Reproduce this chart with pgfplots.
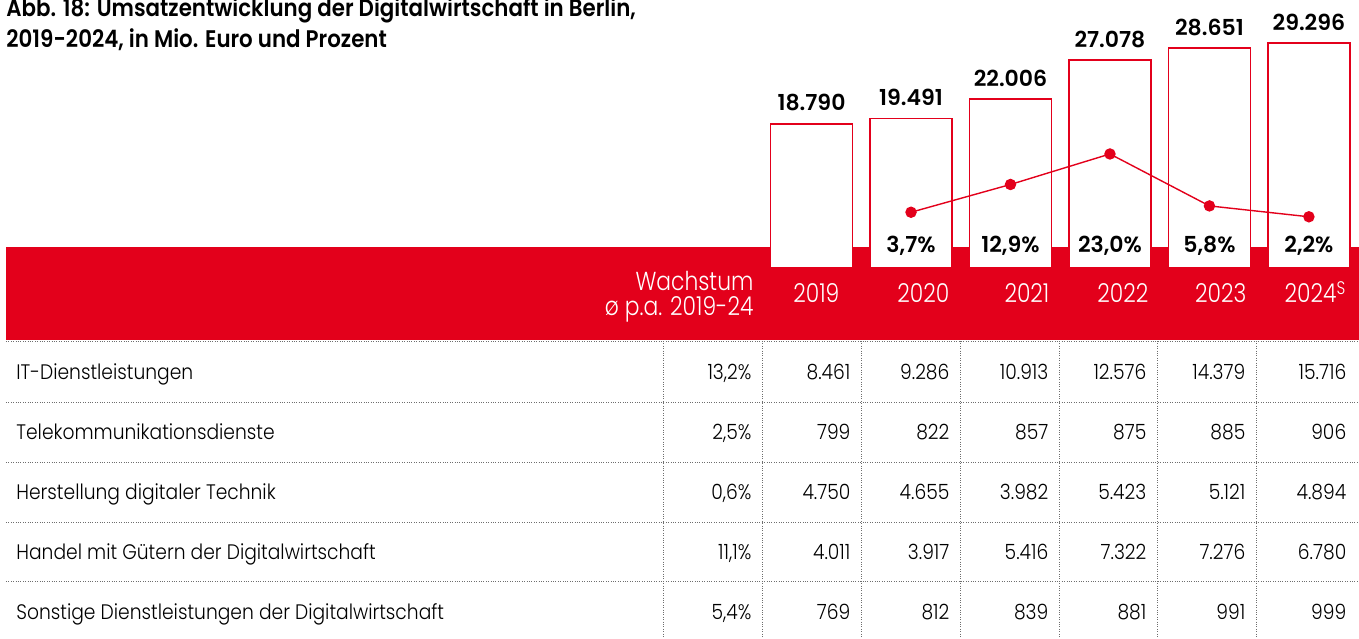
\documentclass[border=0pt]{standalone}
\usepackage{pgfplots}
\pgfplotsset{compat=1.18}
\usepackage{fontspec}
\setmainfont{Poppins}
\newfontfamily\lightfont{Poppins Light}[FakeStretch=0.89]
\newfontfamily\headfont{Poppins Light}[FakeStretch=0.84]
\newfontfamily\semifont{Poppins SemiBold}
\newfontfamily\titlefont{Poppins SemiBold}[FakeStretch=0.89]
\definecolor{bred}{RGB}{227,0,27}
\definecolor{dotgray}{RGB}{110,110,110}
\begin{document}
\begin{tikzpicture}
\begin{scope}[x=0.5pt,y=-0.5pt]
\path[use as bounding box] (0,0) rectangle (1359,638);
\fill[bred] (6,247) rectangle (1359,340);
\node[anchor=base west, inner sep=0pt, font=\titlefont\fontsize{12pt}{14pt}\selectfont] at (6,17) {Abb. 18: Umsatzentwicklung der Digitalwirtschaft in Berlin,};
\node[anchor=base west, inner sep=0pt, font=\titlefont\fontsize{12pt}{14pt}\selectfont] at (6,48) {2019-2024, in Mio. Euro und Prozent};
\end{scope}

% bars
\begin{axis}[
  at={(381pt,-134pt)}, anchor=south west,
  width=298.5pt, height=134pt, scale only axis,
  xmin=-0.5, xmax=5.5, ymin=0, ymax=34941,
  hide axis, clip=false,
]
\addplot[ybar, draw=bred, fill=white, line width=0.9pt, bar width=41pt,
  point meta=explicit symbolic, nodes near coords,
  every node near coord/.append style={font=\semifont\fontsize{11pt}{13pt}\selectfont, text=black, anchor=base, yshift=6.5pt, inner sep=0pt}]
  coordinates {(0,18790)[18.790] (1,19491)[19.491] (2,22006)[22.006] (3,27078)[27.078] (4,28651)[28.651] (5,29296)[29.296]};
\end{axis}

% growth line
\begin{axis}[
  at={(381pt,-134pt)}, anchor=south west,
  width=298.5pt, height=134pt, scale only axis,
  xmin=-0.5, xmax=5.5, ymin=-14.74, ymax=74.0,
  hide axis, clip=false,
]
\addplot[color=bred, line width=0.7pt, mark=*, mark size=2.5pt, mark options={fill=bred, draw=bred}]
  coordinates {(1,3.7) (2,12.9) (3,23.0) (4,5.8) (5,2.2)};
\foreach \i/\t in {1/{3,7\%},2/{12,9\%},3/{23,0\%},4/{5,8\%},5/{2,2\%}}{
  \edef\temp{\noexpand\node[anchor=base, inner sep=0pt, font=\noexpand\semifont\noexpand\fontsize{11pt}{13pt}\noexpand\selectfont] at (axis cs:\i,-9.77) {\t};}
  \temp
}
\end{axis}

\begin{scope}[x=0.5pt,y=-0.5pt]
% header
\begin{scope}[every node/.style={inner sep=0pt, text=white, font=\headfont\fontsize{13pt}{15pt}\selectfont}]
\node[anchor=base east] at (754,291) {Wachstum};
\node[anchor=base east] at (754,316) {ø p.a. 2019-24};
\node[anchor=base east] at (840,303) {2019};
\node[anchor=base east] at (950,303) {2020};
\node[anchor=base east] at (1050,303) {2021};
\node[anchor=base east] at (1149,303) {2022};
\node[anchor=base east] at (1247,303) {2023};
\node[anchor=base east] at (1347,303) {2024\textsuperscript{S}};
\end{scope}
% grid
\begin{scope}[dotgray, line width=0.35pt, dash pattern=on 0.5pt off 0.7pt]
\foreach \y in {341,402,462,522,582}{\draw (6,\y) -- (1359,\y);}
\foreach \x in {664,763,862,961,1060,1158,1257}{\draw (\x,341) -- (\x,638);}
\end{scope}
% table
\begin{scope}[every node/.style={inner sep=0pt, text=black, font=\lightfont\fontsize{10.5pt}{12pt}\selectfont}]
\def\rows{380/{IT-Dienstleistungen}/{13,2\%}/{8.461}/{9.286}/{10.913}/{12.576}/{14.379}/{15.716},
440/{Telekommunikationsdienste}/{2,5\%}/{799}/{822}/{857}/{875}/{885}/{906},
500/{Herstellung digitaler Technik}/{0,6\%}/{4.750}/{4.655}/{3.982}/{5.423}/{5.121}/{4.894},
560/{Handel mit Gütern der Digitalwirtschaft}/{11,1\%}/{4.011}/{3.917}/{5.416}/{7.322}/{7.276}/{6.780},
620/{Sonstige Dienstleistungen der Digitalwirtschaft}/{5,4\%}/{769}/{812}/{839}/{881}/{991}/{999}}
\foreach \y/\lab/\g/\a/\b/\c/\d/\e/\f in \rows {
  \node[anchor=base west] at (16,\y) {\lab};
  \node[anchor=base east] at (752,\y) {\g};
  \node[anchor=base east] at (851,\y) {\a};
  \node[anchor=base east] at (950,\y) {\b};
  \node[anchor=base east] at (1049,\y) {\c};
  \node[anchor=base east] at (1147,\y) {\d};
  \node[anchor=base east] at (1246,\y) {\e};
  \node[anchor=base east] at (1347,\y) {\f};
}
\end{scope}
\end{scope}
\end{tikzpicture}
\end{document}
